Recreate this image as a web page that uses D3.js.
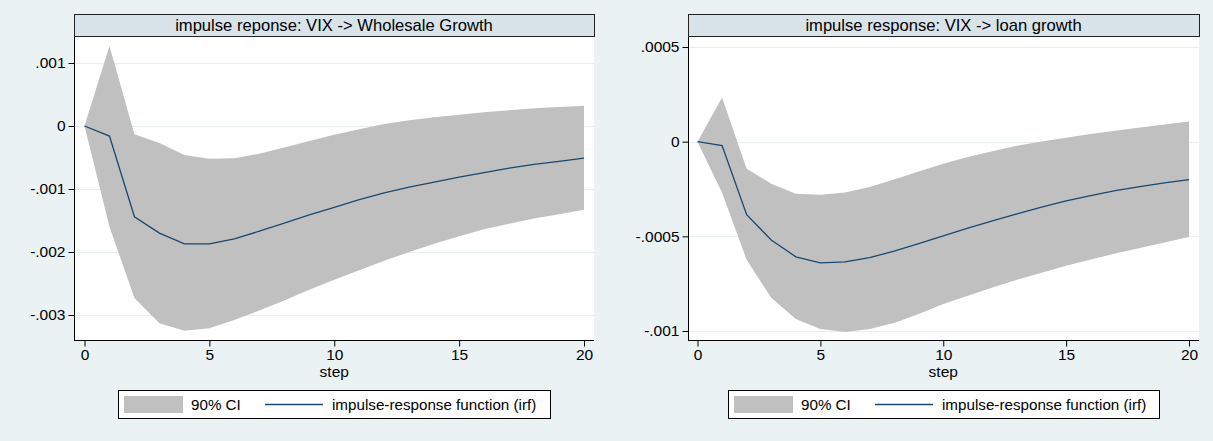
<!DOCTYPE html>
<html><head><meta charset="utf-8">
<script src="https://cdn.jsdelivr.net/npm/d3@7"></script>
<style>
html,body{margin:0;padding:0;background:#EAF2F3;}
svg{display:block;font-family:"Liberation Sans",Arial,sans-serif;}
</style></head>
<body>
<svg id="chart" width="1213" height="441"></svg>
<script>
const steps = d3.range(0, 21);

const titleLeft = "impulse reponse: VIX -> Wholesale Growth";
const irfLeft = [0,-0.00016,-0.00144,-0.00170,-0.00187,-0.00187,-0.00179,-0.00167,-0.00154,-0.00141,-0.00129,-0.00117,-0.00106,-0.00097,-0.00089,-0.00081,-0.00074,-0.00067,-0.00061,-0.00056,-0.00051];
const upperLeft = [0,0.00127,-0.00013,-0.00027,-0.00046,-0.00052,-0.00051,-0.00044,-0.00034,-0.00024,-0.00014,-0.00005,0.00003,0.00009,0.00014,0.00018,0.00022,0.00025,0.00028,0.00030,0.00032];
const lowerLeft = [0,-0.00160,-0.00273,-0.00313,-0.00325,-0.00321,-0.00308,-0.00293,-0.00277,-0.00260,-0.00244,-0.00229,-0.00214,-0.00200,-0.00187,-0.00175,-0.00164,-0.00155,-0.00147,-0.00140,-0.00133];
const yTicksLeft = [0.001, 0, -0.001, -0.002, -0.003];
const yTickLabelsLeft = [".001", "0", "-.001", "-.002", "-.003"];

const titleRight = "impulse response: VIX -> loan growth";
const irfRight = [0,-0.000021,-0.000386,-0.000519,-0.000608,-0.000640,-0.000635,-0.000613,-0.000578,-0.000538,-0.000497,-0.000457,-0.000418,-0.000381,-0.000346,-0.000313,-0.000285,-0.000259,-0.000237,-0.000218,-0.000201];
const upperRight = [0,0.000233,-0.000143,-0.000222,-0.000275,-0.000280,-0.000268,-0.000240,-0.000200,-0.000157,-0.000117,-0.000081,-0.000050,-0.000022,0.000001,0.000021,0.000040,0.000058,0.000075,0.000091,0.000106];
const lowerRight = [0,-0.000270,-0.000624,-0.000825,-0.000937,-0.000990,-0.001005,-0.000990,-0.000958,-0.000910,-0.000858,-0.000814,-0.000770,-0.000730,-0.000692,-0.000656,-0.000623,-0.000591,-0.000561,-0.000532,-0.000503];
const yTicksRight = [0.0005, 0, -0.0005, -0.001];
const yTickLabelsRight = [".0005", "0", "-.0005", "-.001"];

const xTicks = [0, 5, 10, 15, 20];
const xLabel = "step";
const legendLabels = ["90% CI", "impulse-response function (irf)"];

const svg = d3.select("#chart");
const STRIP = "#D9E4EA", CI = "#C0C0C0", LINE = "#1A476F", GRID = "#E6EEF0";
const FONT = "Liberation Sans, Arial, sans-serif";

function panel(cfg) {
  const g = svg.append("g");
  const x = d3.scaleLinear().domain([0, 20]).range([cfg.x0, cfg.x20]);
  const y = d3.scaleLinear().domain(cfg.yDomain).range([cfg.bottom, cfg.top]);
  g.append("rect").attr("x", cfg.left).attr("y", cfg.top).attr("width", cfg.right - cfg.left).attr("height", cfg.bottom - cfg.top).attr("fill", "#fff");
  g.selectAll(".grid").data(cfg.yTicks).enter().append("line")
    .attr("x1", cfg.left).attr("x2", cfg.right)
    .attr("y1", d => Math.round(y(d)) + 0.5).attr("y2", d => Math.round(y(d)) + 0.5)
    .attr("stroke", GRID).attr("stroke-width", 1);
  const area = d3.area().x((d, i) => x(steps[i])).y0((d, i) => y(cfg.lower[i])).y1((d, i) => y(cfg.upper[i]));
  g.append("path").datum(cfg.upper).attr("d", area).attr("fill", CI);
  const line = d3.line().x((d, i) => x(steps[i])).y(d => y(d));
  g.append("path").datum(cfg.irf).attr("d", line).attr("fill", "none").attr("stroke", LINE).attr("stroke-width", 1.3);
  const yAxis = d3.axisLeft(y).tickValues(cfg.yTicks).tickFormat((d, i) => cfg.yLabels[i]).tickSize(6).tickPadding(3);
  const ya = g.append("g").attr("transform", `translate(${cfg.left + 0.5},0)`).call(yAxis);
  ya.select(".domain").attr("d", `M0,${cfg.top}V${cfg.bottom}`).attr("stroke", "#000");
  ya.selectAll("text").attr("font-size", 15.5).attr("fill", "#000").attr("font-family", FONT);
  const xAxis = d3.axisBottom(x).tickValues(xTicks).tickFormat(d3.format("d")).tickSize(6).tickPadding(2);
  const xa = g.append("g").attr("transform", `translate(0,${cfg.bottom + 0.5})`).call(xAxis);
  xa.select(".domain").attr("d", `M${cfg.left},0H${cfg.right}`).attr("stroke", "#000");
  xa.selectAll("text").attr("font-size", 15.5).attr("fill", "#000").attr("font-family", FONT);
  g.append("text").attr("x", x(10)).attr("y", cfg.bottom + 37).attr("text-anchor", "middle").attr("font-size", 15.5).text(xLabel);
  g.append("rect").attr("x", cfg.left + 0.5).attr("y", cfg.stripTop + 0.5).attr("width", cfg.right - cfg.left).attr("height", cfg.top - cfg.stripTop)
    .attr("fill", STRIP).attr("stroke", "#222").attr("stroke-width", 1);
  g.append("text").attr("x", (cfg.left + cfg.right) / 2).attr("y", cfg.stripTop + 17).attr("text-anchor", "middle").attr("font-size", 16.6).text(cfg.title);
  const lg = g.append("g").attr("transform", `translate(${cfg.legX},${cfg.legY})`);
  lg.append("rect").attr("x", 0.5).attr("y", 0.5).attr("width", cfg.legW).attr("height", 28).attr("fill", "#fff").attr("stroke", "#000");
  lg.append("rect").attr("x", 6).attr("y", 6).attr("width", 59).attr("height", 17).attr("fill", CI);
  lg.append("text").attr("x", 73).attr("y", 19.5).attr("font-size", 15.2).text(legendLabels[0]);
  lg.append("line").attr("x1", 147).attr("x2", 205).attr("y1", 14.5).attr("y2", 14.5).attr("stroke", LINE).attr("stroke-width", 1.3);
  lg.append("text").attr("x", 214).attr("y", 19.5).attr("font-size", 15.2).text(legendLabels[1]);
}

panel({
  title: titleLeft, irf: irfLeft, upper: upperLeft, lower: lowerLeft,
  yTicks: yTicksLeft, yLabels: yTickLabelsLeft,
  left: 74, right: 594, stripTop: 14, top: 36, bottom: 340,
  x0: 84.5, x20: 584,
  yDomain: [-0.003 - 25 / 63 * 0.001, 0.001 + 27 / 63 * 0.001],
  legX: 118, legY: 390, legW: 432
});
panel({
  title: titleRight, irf: irfRight, upper: upperRight, lower: lowerRight,
  yTicks: yTicksRight, yLabels: yTickLabelsRight,
  left: 688, right: 1199, stripTop: 14, top: 36, bottom: 340,
  x0: 697.5, x20: 1189,
  yDomain: [-0.001 - 9 / 189 * 0.001, 0.0005 + 11 / 189 * 0.001],
  legX: 728, legY: 390, legW: 431
});
</script>
</body></html>
